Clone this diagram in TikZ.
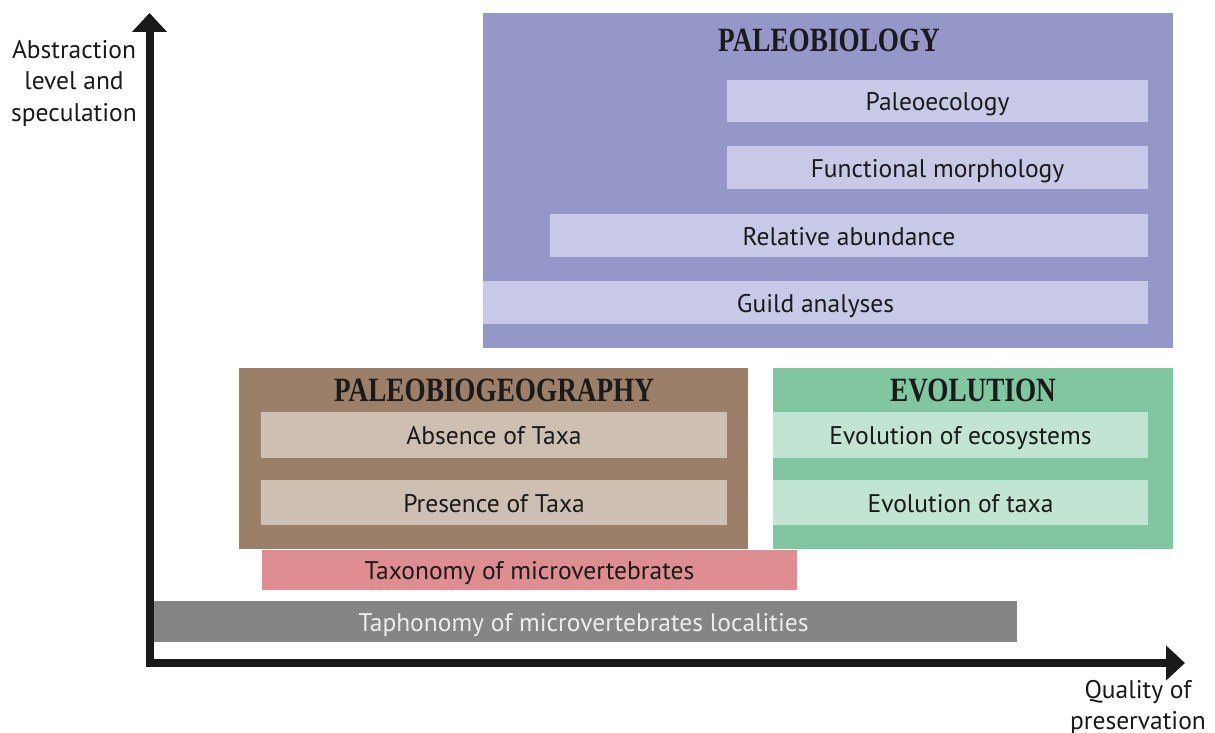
\documentclass[tikz,border=0pt]{standalone}
\usepackage{fontspec}
\setmainfont{PT Sans}
\newfontfamily\headfont[FakeStretch=0.8]{Liberation Serif}
\usetikzlibrary{arrows.meta,positioning}
\definecolor{biopurple}{HTML}{9597C8}
\definecolor{biolight}{HTML}{C8C9E6}
\definecolor{geobrown}{HTML}{9C7F68}
\definecolor{geolight}{HTML}{CDC0B3}
\definecolor{evogreen}{HTML}{80C6A0}
\definecolor{evolight}{HTML}{C2E4D2}
\definecolor{taxpink}{HTML}{DE8E90}
\definecolor{taphgray}{HTML}{858585}
\definecolor{inkdark}{HTML}{1A1A1A}

\begin{document}
\begin{tikzpicture}[x=1pt, y=-1pt,
  field/.style={inner sep=0pt, outer sep=0pt},
  item/.style={inner sep=0pt, outer sep=0pt, text=inkdark, text height=20pt, text depth=1pt, font=\fontsize{25.5}{28}\selectfont},
  heading/.style={text=inkdark, font=\headfont\bfseries\fontsize{34}{36}\selectfont},
  axis/.style={{Triangle[width=34pt,length=19pt]}-{Triangle[width=34pt,length=19pt]}, line width=8pt, inkdark, line join=miter},
  axislabel/.style={align=center, text=inkdark, font=\fontsize{25.5}{31.5}\selectfont}
]
\useasboundingbox (0,0) rectangle (1215,733);

% paleobiology block
\node[field, fill=biopurple, minimum width=690pt, minimum height=335pt] (bio) at (828,180.5) {};
\node[heading] (biohead) at (829,40) {PALEOBIOLOGY};
\node[item, fill=biolight, minimum width=421pt, minimum height=42pt] (paleoeco) at (937.5,101) {Paleoecology};
\node[item, fill=biolight, minimum width=421pt, minimum height=43pt] (funcmorph) at (937.5,167.5) {Functional morphology};
\node[item, fill=biolight, minimum width=598pt, minimum height=43pt] (relabund) at (849,235.5) {Relative abundance};
\node[item, fill=biolight, minimum width=665pt, minimum height=43pt] (guild) at (815.5,302.5) {Guild analyses};

% paleobiogeography block
\node[field, fill=geobrown, minimum width=509pt, minimum height=181pt] (geo) at (493.5,458.5) {};
\node[heading] (geohead) at (494,390) {PALEOBIOGEOGRAPHY};
\node[item, fill=geolight, minimum width=466pt, minimum height=46pt] (absence) at (494,435) {Absence of Taxa};
\node[item, fill=geolight, minimum width=466pt, minimum height=45pt] (presence) at (494,502.5) {Presence of Taxa};

% evolution block
\node[field, fill=evogreen, minimum width=400pt, minimum height=181pt] (evo) at (973,458.5) {};
\node[heading] (evohead) at (973,390) {EVOLUTION};
\node[item, fill=evolight, minimum width=375pt, minimum height=46pt] (evoeco) at (960.5,435) {Evolution of ecosystems};
\node[item, fill=evolight, minimum width=375pt, minimum height=45pt] (evotaxa) at (960.5,502.5) {Evolution of taxa};

% base layers
\node[item, fill=taxpink, minimum width=535pt, minimum height=40pt] (taxonomy) at (529.5,570) {Taxonomy of microvertebrates};
\node[item, fill=taphgray, text=white!93!black, minimum width=867pt, minimum height=41pt] (taphonomy) at (583.5,621.5) {Taphonomy of microvertebrates localities};

% axes
\coordinate (top) at (149.5,13);
\coordinate (origin) at (149.5,663);
\coordinate (right) at (1185,663);
\draw[axis] (top) -- (origin) -- (right);
\node[axislabel] (ylabel) at (74,83) {Abstraction\\level and\\speculation};
\node[axislabel] (xlabel) at (1138,707.5) {Quality of\\preservation};
\end{tikzpicture}
\end{document}
